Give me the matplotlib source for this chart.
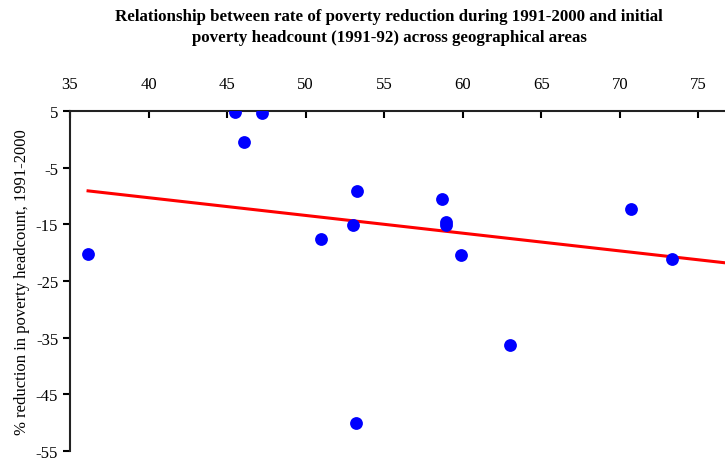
import matplotlib.pyplot as plt
import numpy as np

plt.rcParams['font.family'] = ['Liberation Serif', 'DejaVu Serif']
plt.rcParams['axes.unicode_minus'] = False

# initial poverty headcount (1991-92) vs % reduction 1991-2000
headcount = np.array([36.15, 45.5, 47.2, 46.1, 51.0, 53.0, 53.3, 53.2,
                      58.7, 58.95, 58.95, 59.9, 63.0, 70.7, 73.3])
reduction = np.array([-20.2, 4.8, 4.6, -0.5, -17.6, -15.1, -9.2, -50.0,
                      -10.5, -14.6, -15.2, -20.4, -36.3, -12.3, -21.1])

# linear trend as shown in the chart
trend_slope = -0.313
trend_intercept = 2.22

fig = plt.figure(figsize=(7.25, 4.64), dpi=100)
ax = fig.add_axes([70 / 725, 1 - 452 / 464, 1 - 70 / 725, (452 - 112) / 464])

ax.scatter(headcount, reduction, s=85, color='#0000ff', zorder=3, linewidths=0)

xs = np.array([headcount.min(), 76.7])
ax.plot(xs, trend_slope * xs + trend_intercept, color='#ff0000', lw=2.2, zorder=2)

ax.set_xlim(35, 76.7)
ax.set_ylim(-55, 5)
ax.set_xticks(np.arange(35, 76, 5))
ax.set_yticks(np.arange(5, -56, -10))
ax.xaxis.tick_top()
ax.tick_params(axis='x', direction='in', length=5, width=1.5, labelsize=12, pad=14)
ax.tick_params(axis='y', direction='out', length=5, width=1.5, labelsize=12)
for s in ['right', 'bottom']:
    ax.spines[s].set_visible(False)
for s in ['left', 'top']:
    ax.spines[s].set_linewidth(1.5)
    ax.spines[s].set_color('#222222')

ax.set_ylabel('% reduction in poverty headcount, 1991-2000', fontsize=12, labelpad=4)
fig.suptitle('Relationship between rate of poverty reduction during 1991-2000 and initial\n'
             'poverty headcount (1991-92) across geographical areas',
             fontsize=12.2, fontweight='bold', x=0.537, y=0.98, linespacing=1.4)

fig.savefig('out.png', dpi=100)
